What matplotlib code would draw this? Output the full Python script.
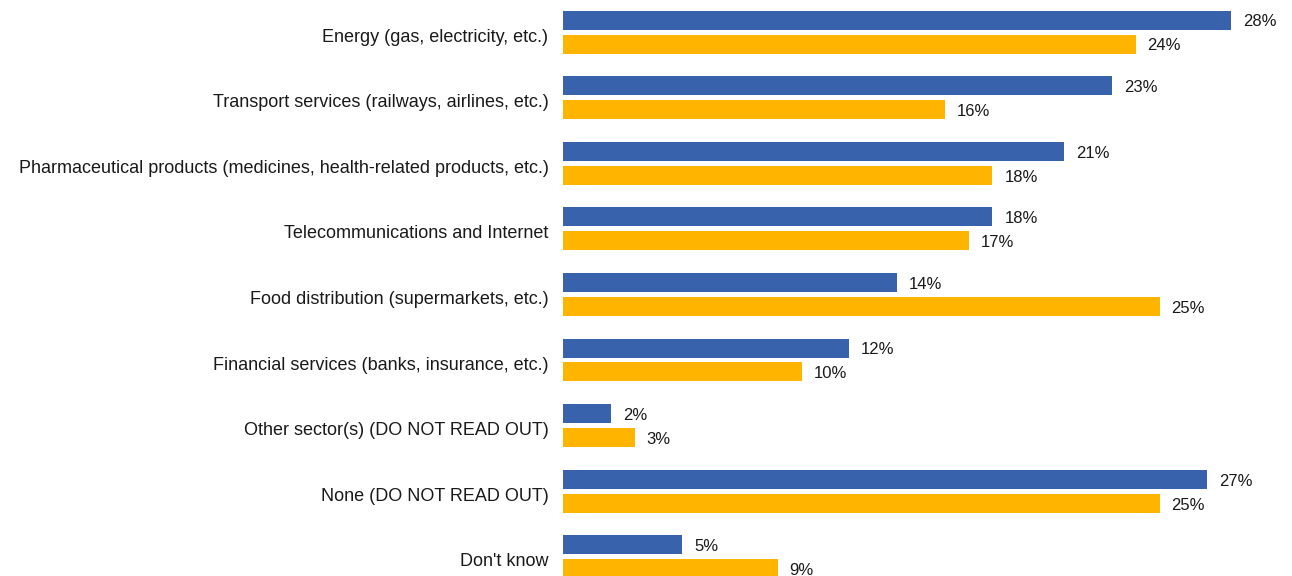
import matplotlib
matplotlib.use("Agg")
import matplotlib.pyplot as plt
import matplotlib.transforms as mtransforms
import numpy as np

categories = [
    "Energy (gas, electricity, etc.)",
    "Transport services (railways, airlines, etc.)",
    "Pharmaceutical products (medicines, health-related products, etc.)",
    "Telecommunications and Internet",
    "Food distribution (supermarkets, etc.)",
    "Financial services (banks, insurance, etc.)",
    "Other sector(s) (DO NOT READ OUT)",
    "None (DO NOT READ OUT)",
    "Don't know",
]
blue_vals = [28, 23, 21, 18, 14, 12, 2, 27, 5]
yellow_vals = [24, 16, 18, 17, 25, 10, 3, 25, 9]

BLUE = "#3862ac"
YELLOW = "#ffb400"

plt.rcParams["font.family"] = ["Liberation Sans", "DejaVu Sans"]

fig = plt.figure(figsize=(12.92, 5.76), dpi=100)
ax = fig.add_axes([563 / 1292, 0, 1 - 563 / 1292, 1])

y = np.arange(len(categories))
off = 12 / 65.6
h = 19 / 65.6
ax.barh(y - off, blue_vals, height=h, color=BLUE)
ax.barh(y + off, yellow_vals, height=h, color=YELLOW)

for i, (b, yv) in enumerate(zip(blue_vals, yellow_vals)):
    ax.text(b + 0.5, i - off + 0.03, f"{b}%", va="center", ha="left", fontsize=12, color="#1a1a1a")
    ax.text(yv + 0.5, i + off + 0.03, f"{yv}%", va="center", ha="left", fontsize=12, color="#1a1a1a")

ax.set_yticks(y)
ax.set_yticklabels(categories, fontsize=13, color="#1a1a1a")
ax.tick_params(axis="y", length=0, pad=10.5)
# nudge the category labels down a little
shift = mtransforms.ScaledTranslation(0, -3 / 100, fig.dpi_scale_trans)
for lab in ax.get_yticklabels():
    lab.set_transform(lab.get_transform() + shift)
ax.set_xticks([])
ax.set_xlim(0, (1292 - 563) / 23.86)
ax.set_ylim((576 - 32) / 65.6, -32 / 65.6)
for s in ax.spines.values():
    s.set_visible(False)

fig.savefig("out.png", dpi=100)
